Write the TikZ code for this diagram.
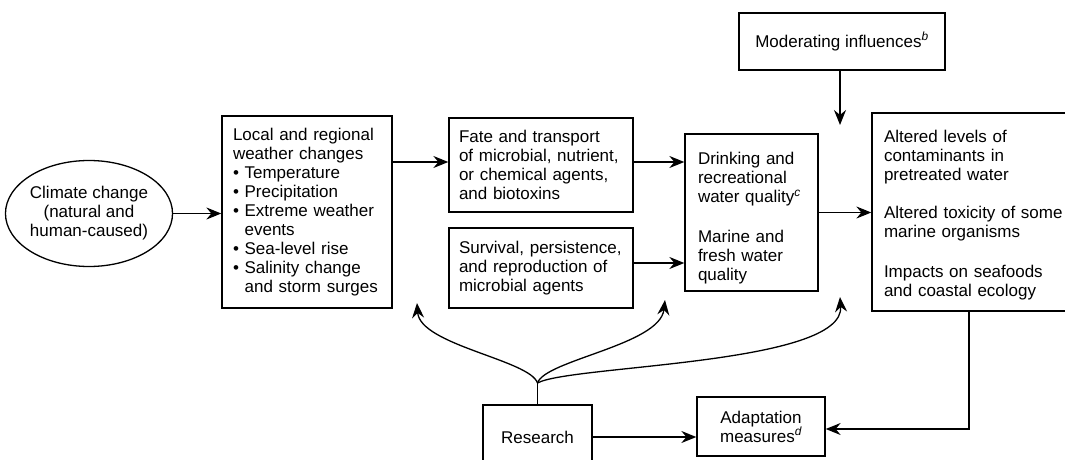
\documentclass[tikz,border=0pt]{standalone}
\usepackage{fontspec}
\setmainfont{Liberation Sans}
\usetikzlibrary{arrows.meta,shapes.geometric}
\begin{document}
\begin{tikzpicture}[x=1pt,y=-1pt,
  txt/.style={font=\fontsize{17}{19}\selectfont},
  box/.style={txt, draw, line width=1.3pt, inner sep=0pt, align=left},
  cbox/.style={txt, draw, line width=1.3pt, inner sep=0pt, align=center},
  arr/.style={-{Stealth[length=15pt,width=12pt,inset=5pt]}, line width=1.3pt}]
\useasboundingbox (0,0) rectangle (1065,460);
\clip (0,0) rectangle (1065,460);

% cause
\node[txt, draw, ellipse, line width=1.3pt, inner sep=0pt, align=center,
      minimum width=162, minimum height=106] (clim) at (89,213.5)
  {Climate change\\(natural and\\human-caused)};

% pathway boxes
\node[box, minimum width=170, minimum height=192, text width=148] (local) at (307,212)
  {Local and regional\\
   weather changes\\
   \textbullet\ Temperature\\
   \textbullet\ Precipitation\\
   \textbullet\ Extreme weather\\
   \hphantom{\textbullet\ }events\\
   \textbullet\ Sea-level rise\\
   \textbullet\ Salinity change\\
   \hphantom{\textbullet\ }and storm surges};

\node[box, minimum width=184, minimum height=94, text width=164] (fate) at (541,165)
  {Fate and transport\\
   of microbial, nutrient,\\
   or chemical agents,\\
   and biotoxins};

\node[box, minimum width=184, minimum height=80, text width=164] (surv) at (541,268)
  {Survival, persistence,\\
   and reproduction of\\
   microbial agents};

\node[box, minimum width=133, minimum height=157, text width=107] (drink) at (751.5,212.5)
  {\rule{0pt}{24pt}Drinking and\\
   recreational\\
   water quality\textsuperscript{\itshape c}\\[21pt]
   Marine and\\
   fresh water\\
   quality};

\node[box, minimum width=218, minimum height=198, text width=194] (effects) at (981,212)
  {\rule{0pt}{18pt}Altered levels of\\
   contaminants in\\
   pretreated water\\[19pt]
   Altered toxicity of some\\
   marine organisms\\[21pt]
   Impacts on seafoods\\
   and coastal ecology};

\node[cbox, minimum width=206, minimum height=57] (mod) at (842,41.5)
  {Moderating influences\textsuperscript{\itshape b}};

\node[cbox, minimum width=128, minimum height=59] (adapt) at (761,426.5)
  {Adaptation\\measures\textsuperscript{\itshape d}};

\node[cbox, minimum width=109, minimum height=65] (res) at (537.5,437.5)
  {Research};

% free ends of connectors
\coordinate (modend) at (840,125);
\coordinate (fork) at (537.5,383);
\coordinate (t1) at (417,303);
\coordinate (t2) at (665,300);
\coordinate (t3) at (840,297);

% main chain
\draw[arr] (clim.east) -- (clim.east -| local.west);
\draw[arr] (local.east |- 0,162) -- (fate.west |- 0,162);
\draw[arr] (fate.east |- 0,162) -- (drink.west |- 0,162);
\draw[arr] (surv.east |- 0,263) -- (drink.west |- 0,263);
\draw[arr] (drink.east) -- (drink.east -| effects.west);
\draw[arr] (mod.south -| modend) -- (modend);

% research links
\draw[line width=1.3pt] (res.north) -- (fork);
\draw[arr] (fork) .. controls (530,360) and (420,345) .. (t1);
\draw[arr] (fork) .. controls (545,360) and (660,345) .. (t2);
\draw[arr] (fork) .. controls (570,365) and (845,365) .. (t3);

% adaptation
\draw[arr] (res.east |- 0,437) -- (adapt.west |- 0,437);
\draw[arr] (effects.south -| 969,0) |- (adapt.east |- 0,429);
\end{tikzpicture}
\end{document}
